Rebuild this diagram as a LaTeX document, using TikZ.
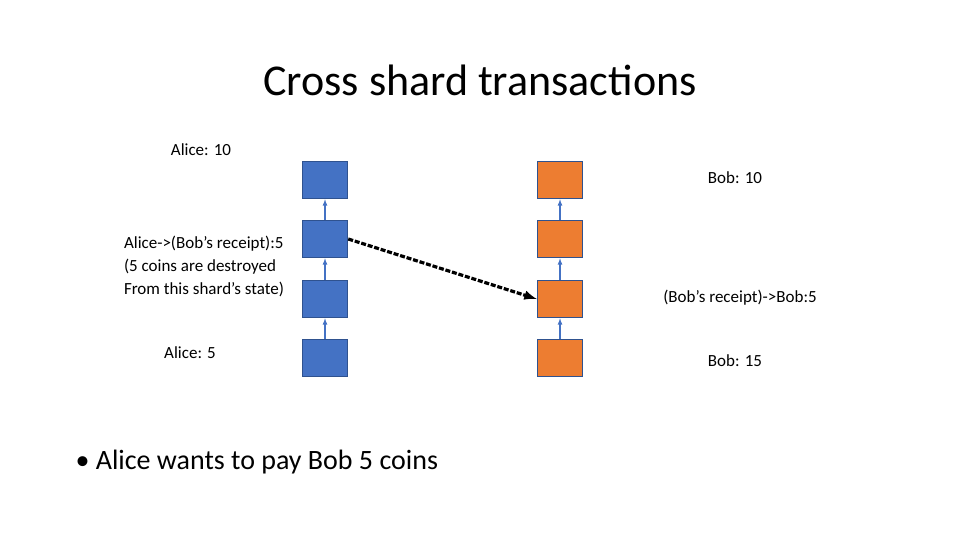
\documentclass[tikz,border=0pt]{standalone}
\usepackage{fontspec}
\setmainfont{Carlito}
\usepackage{tikz}
\usetikzlibrary{shapes,arrows,backgrounds,positioning}
\definecolor{shardblue}{HTML}{4472C4}
\definecolor{shardorange}{HTML}{ED7D31}
\definecolor{blockedge}{HTML}{2F528F}

\begin{document}
\begin{tikzpicture}[x=1pt,y=-1pt,
  block/.style={draw=blockedge,line width=1.5pt,minimum width=45pt,minimum height=37pt,inner sep=0pt},
  link/.style={->,>=latex,draw=shardblue,line width=1.2pt},
  lbl/.style={font=\fontsize{17}{23}\selectfont}]
\useasboundingbox (0,0) rectangle (960,540);
\node (title) at (480,80) {\fontsize{44}{52}\selectfont Cross shard transactions};
\foreach \i/\y in {1/180,2/239,3/299,4/358} {
  \node [block,fill=shardblue] (a\i) at (325,\y) {};
  \node [block,fill=shardorange] (b\i) at (560,\y) {};
}
\foreach \i/\j in {2/1,3/2,4/3} {
  \draw [link] (a\i) -- (a\j);
  \draw [link] (b\i) -- (b\j);
}
\draw [->,>=latex,line width=3.2pt,dash pattern=on 5pt off 1.8pt] (a2.east) -- (b3.west);
\node [lbl] (alice10) at (201,150) {Alice: 10};
\node [lbl,align=left] (alicetx) at (204,266) {Alice->(Bob's receipt):5\\(5 coins are destroyed\\From this shard's state)};
\node [lbl] (alice5) at (190,353) {Alice: 5};
\node [lbl] (bob10) at (735,178) {Bob: 10};
\node [lbl] (bobtx) at (740,298) {(Bob's receipt)->Bob:5};
\node [lbl] (bob15) at (735,361) {Bob: 15};
\node [anchor=west,font=\fontsize{28}{32}\selectfont] (goal) at (72,462) {• Alice wants to pay Bob 5 coins};
\end{tikzpicture}
\end{document}
